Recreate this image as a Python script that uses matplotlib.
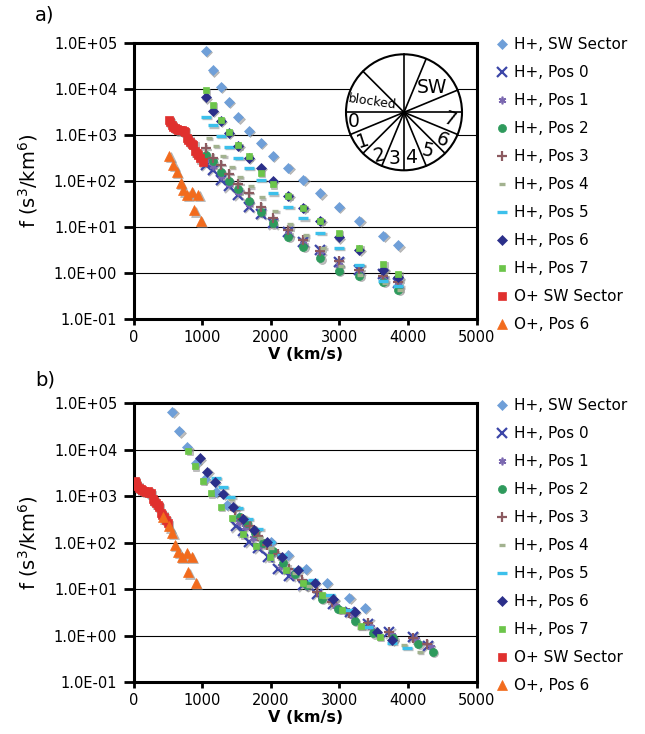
import matplotlib
matplotlib.use("Agg")
import numpy as np
import matplotlib.pyplot as plt
from matplotlib.patches import Circle
from matplotlib.transforms import ScaledTranslation
from matplotlib.ticker import FixedLocator, FuncFormatter, NullLocator

plt.rcParams["font.family"] = ["DejaVu Sans"]

# ---------------------------------------------------------------- data
series_names = ["H+, SW Sector", "H+, Pos 0", "H+, Pos 1", "H+, Pos 2",
                "H+, Pos 3", "H+, Pos 4", "H+, Pos 5", "H+, Pos 6",
                "H+, Pos 7", "O+ SW Sector", "O+, Pos 6"]

# phase space density f (s^3/km^6), same samples in both panels
f_h_sw = [6.6e4, 2.5e4, 1.12e4, 5.2e3, 2.4e3, 1.23e3, 660, 350, 190, 105, 54, 27.5, 13.8, 6.5, 4.0]
f_h_p0 = [225, 175, 105, 76, 50, 27.5, 19, 12, 7.9, 4.8, 3.2, 1.78, 1.17, 0.95, 0.60]
f_h_p1 = [280, 215, 126, 87, 58, 32, 20, 12.6, 7.2, 4.3, 2.6, 1.5, 1.05, 0.83, 0.56]
f_h_p2 = [365, 265, 160, 100, 66, 37, 21.5, 12, 6.2, 3.7, 2.1, 1.12, 0.87, 0.66, 0.44]
f_h_p3 = [510, 320, 225, 142, 87, 56, 27.5, 15.5, 8.7, 5.2, 3.1, 1.82, 1.17, 0.87, 0.66]
f_h_p4 = [850, 575, 355, 205, 123, 76, 44, 22.4, 11.7, 6.9, 3.5, 1.44, 0.91, 0.62, 0.44]
f_h_p5 = [2450, 1600, 950, 560, 320, 195, 105, 54, 27.5, 15.5, 7.4, 3.5, 1.5, 0.69, 0.54]
f_h_p6 = [6500, 3300, 2000, 1120, 580, 320, 190, 102, 48, 26, 13.5, 6.0, 3.2, 1.17, 0.81]
f_h_p7 = [9300, 4400, 2100, 1150, 590, 340, 150, 85, 48, 26, 13.5, 7.4, 3.6, 1.6, 0.95]
f_o_sw = [2100, 1900, 1650, 1500, 1400, 1350, 1300, 1250, 1300, 1200, 1150,
          850, 780, 700, 650, 600, 440, 400, 360, 310, 260]
f_o_p6 = [350, 225, 160, 91, 63, 50, 59, 50, 23, 13.8]

# panel a: velocities in the spacecraft frame (km/s)
va_h = [1057, 1159, 1271, 1388, 1528, 1684, 1854, 2034, 2257, 2475, 2723, 2996, 3292, 3641, 3860]
va_h_p4 = [1101, 1203, 1309, 1431, 1552, 1708, 1873, 2067, 2281, 2515, 2767, 3025, 3302, 3666, 3885]
va_o_sw = [520, 535, 555, 580, 605, 630, 655, 680, 705, 730, 752, 778, 800,
           825, 850, 872, 897, 920, 945, 970, 1008]
va_o_p6 = [522, 580, 630, 688, 726, 784, 848, 945, 886, 984]

# panel b: velocities in the solar wind frame (km/s)
vb_h_sw = [566, 668, 784, 907, 1042, 1203, 1359, 1542, 1761, 2000, 2248, 2515, 2816, 3146, 3375]
vb_h_p0 = [1494, 1590, 1688, 1819, 1965, 2111, 2271, 2466, 2671, 2913, 3156, 3423, 3729, 4070, 4289]
vb_h_p1 = [1530, 1630, 1745, 1860, 2000, 2155, 2325, 2505, 2725, 2945, 3195, 3465, 3760, 4110, 4330]
vb_h_p2 = [1550, 1655, 1770, 1890, 2030, 2185, 2355, 2525, 2743, 2985, 3229, 3496, 3787, 4152, 4361]
vb_h_p3 = [1480, 1580, 1690, 1808, 1950, 2105, 2271, 2455, 2671, 2895, 3140, 3415, 3725, 4065, 4275]
vb_h_p4 = [1420, 1515, 1615, 1735, 1850, 2000, 2160, 2350, 2560, 2790, 3045, 3300, 3580, 3940, 4170]
vb_h_p5 = [1195, 1300, 1410, 1525, 1665, 1820, 1990, 2170, 2390, 2612, 2864, 3131, 3417, 3763, 3982]
vb_h_p6 = [969, 1076, 1188, 1309, 1455, 1601, 1761, 1950, 2165, 2402, 2646, 2913, 3229, 3545, 3773]
vb_h_p7 = [799, 896, 1009, 1125, 1271, 1431, 1592, 1786, 1990, 2223, 2475, 2743, 3035, 3312, 3593]
vb_o_sw = [15, 35, 55, 80, 105, 130, 155, 180, 205, 230, 252, 278, 300,
           325, 350, 372, 397, 420, 445, 470, 505]
vb_o_p6 = [434, 522, 565, 605, 653, 703, 776, 848, 799, 911]

f_all = [f_h_sw, f_h_p0, f_h_p1, f_h_p2, f_h_p3, f_h_p4, f_h_p5,
         f_h_p6, f_h_p7, f_o_sw, f_o_p6]
v_panel_a = [va_h, va_h, va_h, va_h, va_h, va_h_p4, va_h,
             va_h, va_h, va_o_sw, va_o_p6]
v_panel_b = [vb_h_sw, vb_h_p0, vb_h_p1, vb_h_p2, vb_h_p3, vb_h_p4, vb_h_p5,
             vb_h_p6, vb_h_p7, vb_o_sw, vb_o_p6]

y_ticks = [1e-1, 1e0, 1e1, 1e2, 1e3, 1e4, 1e5]
x_ticks = [0, 1000, 2000, 3000, 4000, 5000]

# ---------------------------------------------------------------- styles
colors = ["#6f9fd8", "#3c46a8", "#7b68b0", "#2e9a5c", "#8c5a60", "#a2b28f",
          "#3cc0eb", "#2b2f8a", "#6cc54a", "#e0302e", "#f26b1d"]
markers = [
    dict(marker="D", ms=5.6, filled=True),
    dict(marker="x", ms=6.5, mew=1.6, filled=False),
    dict(marker=(6, 2, 0), ms=5.5, mew=1.2, filled=False),
    dict(marker="o", ms=5.8, filled=True),
    dict(marker="+", ms=7.5, mew=1.6, filled=False),
    dict(marker="_", ms=4.8, mew=2.4, filled=False),
    dict(marker="_", ms=6.8, mew=2.4, filled=False),
    dict(marker="D", ms=4.8, filled=True),
    dict(marker="s", ms=4.3, filled=True),
    dict(marker="s", ms=5.5, filled=True),
    dict(marker="^", ms=7.5, filled=True),
]


def marker_kw(spec, color):
    kw = dict(marker=spec["marker"], ms=spec["ms"], linestyle="none")
    if spec["filled"]:
        kw.update(mfc=color, mec=color, mew=0.5)
    else:
        kw.update(color=color, mew=spec["mew"])
    return kw


fig = plt.figure(figsize=(6.45, 7.34), dpi=100)
W, H = 645.0, 734.0


def px_axes(left, top, right, bottom):
    return [left / W, 1 - bottom / H, (right - left) / W, (bottom - top) / H]


def draw_panel(ax, v_lists, tag, tag_y, legend_y):
    shadow = ax.transData + ScaledTranslation(0.9 / 72, -0.9 / 72, fig.dpi_scale_trans)
    handles = []
    for name, v, f, spec, c in zip(series_names, v_lists, f_all, markers, colors):
        ax.plot(v, f, transform=shadow, alpha=0.55, zorder=2,
                **marker_kw(spec, "#8a8a8a"))
        ln, = ax.plot(v, f, label=name, zorder=3, **marker_kw(spec, c))
        handles.append(ln)

    ax.set_yscale("log")
    ax.set_xlim(0, 5000)
    ax.set_ylim(1e-1, 1e5)
    ax.xaxis.set_major_locator(FixedLocator(x_ticks))
    ax.yaxis.set_major_locator(FixedLocator(y_ticks))
    ax.yaxis.set_minor_locator(NullLocator())
    ax.yaxis.set_major_formatter(FuncFormatter(lambda v, p: f"{v:.1E}"))
    ax.yaxis.grid(True, color="black", lw=0.8)
    ax.set_axisbelow(True)
    for s in ax.spines.values():
        s.set_linewidth(2.2)
    ax.tick_params(axis="x", direction="out", length=4.5, width=2,
                   labelsize=10.5, pad=3.5)
    ax.tick_params(axis="y", direction="out", length=7, width=2,
                   labelsize=10.5, pad=4.7)
    ax.set_xlabel("V (km/s)", fontsize=11.5, fontweight="bold", labelpad=1.5)
    ax.set_ylabel(r"f (s$^3$/km$^6$)", fontsize=14)
    ax.yaxis.set_label_coords(-0.272, 0.5)

    ax.legend(handles=handles, loc="center left", bbox_to_anchor=(1.056, legend_y),
              frameon=False, fontsize=11, handlelength=0.8, handletextpad=0.4,
              labelspacing=0.85, borderpad=0, borderaxespad=0)
    fig.text(45 / W, 1 - tag_y / H, tag, fontsize=14, ha="center", va="center")


ax_a = fig.add_axes(px_axes(133.5, 42.7, 476.7, 319.3))
draw_panel(ax_a, v_panel_a, "a)", 15, 0.487)

ax_b = fig.add_axes(px_axes(133.5, 403.3, 476.7, 682.0))
draw_panel(ax_b, v_panel_b, "b)", 380, 0.49)

# ---------------------------------------------------------------- sector diagram
cx, cy, half = 404.0, 112.3, 65.0
pie = fig.add_axes(px_axes(cx - half, cy - half, cx + half, cy + half))
pie.set_xlim(-half, half)
pie.set_ylim(-half, half)
pie.set_aspect("equal")
pie.axis("off")
R = 58.0
pie.add_patch(Circle((0, 0), R, fc="white", ec="black", lw=1.5, zorder=1))
spoke_angles = [0, 22.5, 67.5, 90, 135, 180, 202.5, 225, 247.5,
                270, 292.5, 315, 337.5]
for a in spoke_angles:
    t = np.deg2rad(a)
    pie.plot([0, R * np.cos(t)], [0, R * np.sin(t)], color="black", lw=1.2, zorder=2)

sector_labels = [("SW", 28, 25, 13.5, 0), ("blocked", -32, 10.5, 9, -8),
                 ("0", -50, -9, 13.5, 0), ("1", -41, -29, 13.5, 18),
                 ("2", -25, -43, 13.5, 12), ("3", -9, -46, 13.5, 0),
                 ("4", 7, -45, 13.5, 0), ("5", 24, -39, 13.5, -12),
                 ("6", 38.5, -27.5, 13.5, -22), ("7", 46, -7.5, 13.5, -18)]
for txt, dx, dy, fs, rot in sector_labels:
    pie.text(dx, dy, txt, fontsize=fs, rotation=rot, ha="center", va="center", zorder=3)

fig.savefig("out.png", dpi=100)
